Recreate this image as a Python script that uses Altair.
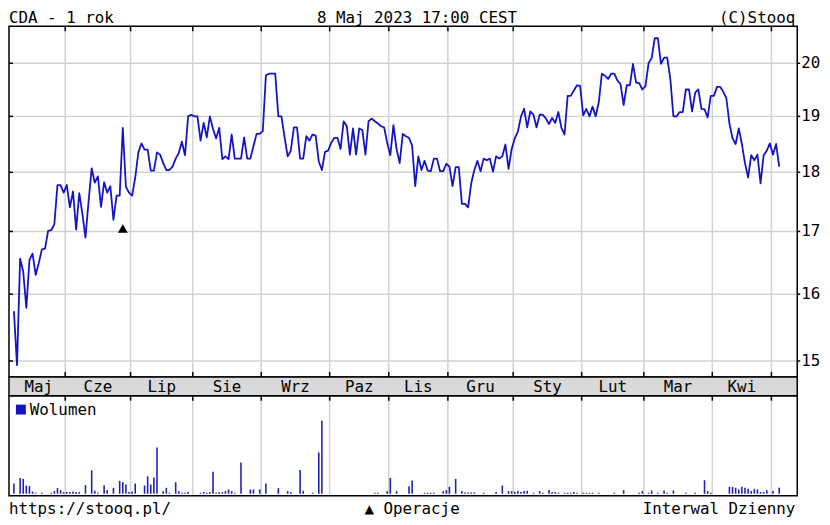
import altair as alt
import numpy as np
import pandas as pd

# ---------------- data ----------------
prices = [
    15.74, 14.94, 16.56, 16.35, 15.79, 16.54, 16.64, 16.30, 16.49, 16.71,
    16.72, 17.01, 17.02, 17.12, 17.78, 17.78, 17.65, 17.78, 17.40, 17.67,
    17.03, 17.64, 17.30, 16.90, 17.50, 18.07, 17.82, 17.93, 17.41, 17.83,
    17.65, 17.76, 17.19, 17.60, 17.60, 18.79, 17.75, 17.65, 17.60, 17.91,
    18.35, 18.51, 18.40, 18.40, 18.03, 18.03, 18.35, 18.31, 18.16, 18.04,
    18.04, 18.10, 18.24, 18.34, 18.54, 18.30, 19.00, 19.03, 19.00, 19.00,
    18.56, 18.88, 18.62, 19.00, 18.77, 18.60, 18.79, 18.23, 18.28, 18.23,
    18.67, 18.24, 18.24, 18.24, 18.62, 18.24, 18.24, 18.46, 18.68, 18.68,
    18.73, 19.77, 19.80, 19.80, 19.80, 19.00, 19.00, 18.62, 18.28, 18.38,
    18.80, 18.80, 18.24, 18.24, 18.64, 18.56, 18.67, 18.65, 18.19, 18.04,
    18.36, 18.38, 18.52, 18.61, 18.61, 18.41, 18.91, 18.82, 18.31, 18.78,
    18.31, 18.78, 18.75, 18.31, 18.91, 18.96, 18.91, 18.87, 18.82, 18.80,
    18.52, 18.30, 18.84, 18.41, 18.16, 18.68, 18.64, 18.61, 18.47, 17.76,
    18.28, 18.04, 18.20, 18.03, 18.02, 18.24, 18.24, 18.02, 18.02, 18.15,
    18.10, 17.76, 18.09, 18.09, 17.46, 17.46, 17.40, 17.81, 18.04, 18.20,
    18.02, 18.24, 18.21, 18.24, 18.01, 18.28, 18.24, 18.28, 18.49, 18.06,
    18.41, 18.60, 18.72, 19.00, 19.14, 18.80, 19.09, 19.03, 18.80, 19.03,
    19.03, 18.96, 18.86, 18.97, 18.88, 19.08, 18.79, 18.67, 19.38, 19.38,
    19.48, 19.58, 19.57, 19.02, 19.14, 19.00, 19.18, 19.00, 19.26, 19.80,
    19.76, 19.70, 19.80, 19.80, 19.67, 19.60, 19.21, 19.58, 19.58, 19.99,
    19.63, 19.62, 19.50, 19.56, 20.00, 20.10, 20.49, 20.49, 19.99, 20.11,
    20.11, 19.70, 19.00, 19.00, 19.08, 19.08, 19.50, 19.50, 19.09, 19.44,
    19.50, 19.14, 19.13, 18.98, 19.38, 19.38, 19.55, 19.55, 19.46, 19.34,
    18.87, 18.60, 18.50, 18.78, 18.50, 18.16, 17.91, 18.30, 18.21, 18.31,
    17.81, 18.30, 18.38, 18.51, 18.31, 18.50, 18.10,
]

month_names = ["Maj", "Cze", "Lip", "Sie", "Wrz", "Paz", "Lis", "Gru",
               "Sty", "Lut", "Mar", "Kwi", ""]
month_days = [17, 21, 20, 22, 22, 19, 19, 21, 22, 20, 22, 19, 3]
price_ticks = [15, 16, 17, 18, 19, 20]

vol_day = [0, 2, 3, 4, 5, 6, 7, 9, 12, 13, 14, 15, 16, 17, 18, 19, 20, 21,
           23, 25, 26, 27, 29, 30, 32, 34, 35, 36, 37, 38, 39, 42, 43, 44,
           45, 46, 48, 49, 50, 52, 53, 54, 55, 56, 60, 61, 62, 63, 64, 65,
           66, 67, 68, 69, 70, 71, 73, 76, 77, 79, 81, 85, 88, 89, 92, 93,
           96, 98, 99, 116, 117, 120, 121, 123, 127, 128, 132, 133, 134,
           135, 138, 139, 140, 142, 144, 145, 146, 147, 148, 151, 155, 157,
           159, 160, 161, 162, 163, 164, 165, 167, 169, 170, 172, 173, 174,
           175, 177, 178, 179, 180, 181, 183, 184, 185, 186, 188, 193, 196,
           201, 202, 204, 205, 207, 209, 210, 212, 216, 219, 222, 223, 224,
           230, 231, 232, 233, 234, 235, 236, 237, 238, 239, 240, 241, 242,
           244, 246]
vol_val = [31, 48, 45, 25, 23, 7, 3, 3, 3, 8, 17, 11, 5, 5, 5, 7, 5, 5,
           26, 71, 9, 3, 26, 11, 18, 39, 35, 28, 5, 7, 31, 25, 53, 28,
           49, 140, 8, 18, 3, 35, 8, 3, 3, 6, 3, 5, 3, 5, 67, 3,
           5, 5, 8, 13, 8, 3, 95, 13, 13, 13, 31, 17, 8, 5, 72, 9,
           3, 125, 221, 3, 3, 8, 48, 8, 23, 40, 3, 3, 3,
           3, 8, 11, 21, 45, 8, 4, 4, 4, 4, 3, 5, 25,
           8, 8, 6, 8, 5, 8, 9, 3, 8, 3, 11, 5, 5,
           3, 3, 3, 3, 5, 3, 3, 3, 3, 3, 3, 3, 11,
           3, 8, 3, 10, 3, 10, 3, 10, 3, 3, 41, 8, 3,
           21, 21, 18, 13, 21, 18, 15, 8, 15, 13, 5, 5, 11,
           8, 18]

op_day = [35]
op_level = [17.05]

title_left = "CDA - 1 rok"
title_center = "8 Maj 2023 17:00 CEST"
title_right = "(C)Stooq"
footer_left = "https://stooq.pl/"
footer_center = "\u25b2 Operacje"
footer_right = "Interwal Dzienny"
legend_label = "Wolumen"

# ---------------- layout / style ----------------
FONT = "DejaVu Sans Mono"
FS = 16
W, H = 822, 514
X0, X1 = 1, 797
M_TOP, M_BOT = 16, 370
V_TOP, V_BOT, V_BASE = 389, 490, 488
FOOT_Y = 508
LINE_C = "#1414c4"
VOL_C = "#2020b8"
GRID_C = "#d2d2d2"

n = len(prices)
df = pd.DataFrame({"d": np.arange(n), "p": prices})
vdf = pd.DataFrame({"d": vol_day, "v": vol_val})
starts = np.cumsum([0] + month_days[:-1])
ends = np.cumsum(month_days)
bdf = pd.DataFrame({"b": starts[1:] - 0.5})
ldf = pd.DataFrame({"m": month_names, "c": (starts + ends - 1) / 2.0})
ldf = ldf[ldf["m"] != ""]
tdf = pd.DataFrame({"t": price_ticks})
odf = pd.DataFrame({"d": op_day, "lvl": op_level})

xs = alt.Scale(domain=[-1.58, 251.8], range=[X0, X1], nice=False, zero=False)
ps = alt.Scale(type="log", domain=[14.771, 20.727], range=[M_BOT, M_TOP], nice=False)
vs = alt.Scale(domain=[0, 294], range=[V_BASE, V_BASE - 98], nice=False, zero=False)

X = alt.X("d:Q", scale=xs, axis=None)
XB = alt.X("b:Q", scale=xs, axis=None)
YP = alt.Y("t:Q", scale=ps, axis=None)


def one(txt):
    return pd.DataFrame({"t": [txt]})


def label(txt, x, y, align="left", baseline="alphabetic"):
    return alt.Chart(one(txt)).mark_text(
        align=align, baseline=baseline, font=FONT, fontSize=FS, color="black"
    ).encode(x=alt.value(x), y=alt.value(y), text="t:N")


def box(y0, y1, fill="transparent"):
    return alt.Chart(one("")).mark_rect(
        fill=fill, stroke="black", strokeWidth=1.5
    ).encode(x=alt.value(X0), x2=alt.value(X1), y=alt.value(y0), y2=alt.value(y1))


band = box(M_BOT, V_TOP, fill="#d9d9d9")

hgrid = alt.Chart(tdf).mark_rule(color=GRID_C, strokeWidth=1.5).encode(
    y=YP, x=alt.value(X0), x2=alt.value(X1))
vgrid_main = alt.Chart(bdf).mark_rule(color=GRID_C, strokeWidth=1.5).encode(
    x=XB, y=alt.value(M_TOP), y2=alt.value(M_BOT))
vgrid_vol = alt.Chart(bdf).mark_rule(color=GRID_C, strokeWidth=1.5).encode(
    x=XB, y=alt.value(V_TOP), y2=alt.value(V_BOT))

line = alt.Chart(df).mark_line(color=LINE_C, strokeWidth=1.8, strokeJoin="round").encode(
    x=X, y=alt.Y("p:Q", scale=ps, axis=None))

vol = alt.Chart(vdf).mark_rule(color=VOL_C, strokeWidth=1.6).encode(
    x=X, y=alt.Y("v:Q", scale=vs, axis=None), y2=alt.datum(0))

op = alt.Chart(odf).mark_point(shape="triangle-up", filled=True, color="black",
                               size=100, opacity=1).encode(
    x=X, y=alt.Y("lvl:Q", scale=ps, axis=None))

tick_top = alt.Chart(bdf).mark_rule(color="black", strokeWidth=1.5).encode(
    x=XB, y=alt.value(M_TOP), y2=alt.value(M_TOP + 5))
tick_bot = alt.Chart(bdf).mark_rule(color="black", strokeWidth=1.5).encode(
    x=XB, y=alt.value(M_BOT - 5), y2=alt.value(M_BOT))
tick_vol = alt.Chart(bdf).mark_rule(color="black", strokeWidth=1.5).encode(
    x=XB, y=alt.value(V_TOP), y2=alt.value(V_TOP + 5))
ytick_l = alt.Chart(tdf).mark_rule(color="black", strokeWidth=1.5).encode(
    y=YP, x=alt.value(X0), x2=alt.value(X0 + 4))
ytick_r = alt.Chart(tdf).mark_rule(color="black", strokeWidth=1.5).encode(
    y=YP, x=alt.value(X1), x2=alt.value(X1 + 3))

ylabels = alt.Chart(tdf).mark_text(align="left", baseline="middle", font=FONT,
                                   fontSize=FS, color="black").encode(
    y=YP, x=alt.value(X1 + 4), text="t:Q")

mlabels = alt.Chart(ldf).mark_text(baseline="middle", font=FONT, fontSize=FS,
                                   color="black").encode(
    x=alt.X("c:Q", scale=xs, axis=None), y=alt.value((M_BOT + V_TOP) / 2 + 0.5), text="m:N")

legend_sq = alt.Chart(one("")).mark_square(size=100, color=LINE_C, opacity=1).encode(
    x=alt.value(13), y=alt.value(V_TOP + 14))

layers = [
    hgrid, vgrid_main, vgrid_vol, line, vol, op,
    box(M_TOP, M_BOT), band, box(V_TOP, V_BOT),
    tick_top, tick_bot, tick_vol, ytick_l, ytick_r,
    ylabels, mlabels, legend_sq,
    label(legend_label, 22, V_TOP + 14, baseline="middle"),
    label(title_left, X0, 12.5),
    label(title_center, 413, 12.5, align="center"),
    label(title_right, 795, 12.5, align="right"),
    label(footer_left, X0, FOOT_Y),
    label(footer_center, 408, FOOT_Y, align="center"),
    label(footer_right, 795, FOOT_Y, align="right"),
]

chart = alt.layer(*layers).resolve_scale(y="independent").properties(
    width=W, height=H, padding=0,
    autosize=alt.AutoSizeParams(type="none"),
).configure_view(strokeWidth=0)

chart.save("out.html", embed_options={"renderer": "svg", "actions": False})
